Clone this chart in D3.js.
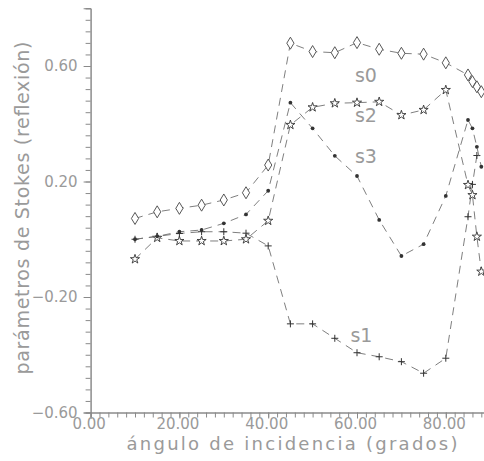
<!DOCTYPE html>
<html>
<head>
<meta charset="utf-8">
<script src="https://cdn.jsdelivr.net/npm/d3@7"></script>
<style>
  body { margin: 0; background: #fff; }
  svg { display: block; }
  text { font-family: "DejaVu Sans", sans-serif; fill: #9a9a9a; }
</style>
</head>
<body>
<svg id="chart" width="484" height="461"></svg>
<script>
// angulos de incidencia (grados)
var angles = [10, 15, 20, 25, 30, 35, 40, 45, 50, 55, 60, 65, 70, 75, 80, 85, 86, 87, 88];

// parametros de Stokes
var s0 = [0.072, 0.095, 0.107, 0.118, 0.136, 0.161, 0.257, 0.679, 0.650, 0.646, 0.681, 0.658, 0.644, 0.641, 0.611, 0.569, 0.546, 0.528, 0.511];
var s1 = [0.000, 0.010, 0.020, 0.026, 0.026, 0.021, -0.023, -0.293, -0.293, -0.343, -0.393, -0.407, -0.424, -0.464, -0.412, 0.078, 0.190, 0.290, null];
var s2 = [-0.069, 0.005, -0.006, -0.006, -0.006, 0.000, 0.064, 0.396, 0.457, 0.471, 0.473, 0.476, 0.430, 0.448, 0.517, 0.188, 0.153, 0.009, -0.112];
var s3 = [0.000, 0.010, 0.026, 0.032, 0.055, 0.086, 0.168, 0.473, 0.384, 0.289, 0.219, 0.067, -0.058, -0.017, 0.150, 0.413, 0.384, 0.320, 0.251];

var seriesNames = ['s0', 's1', 's2', 's3'];
var seriesValues = [s0, s1, s2, s3];
var markers = ['diamond', 'plus', 'star', 'dot'];

// etiquetas de curva: [angulo, valor de linea base]
var labelPos = [[62, 0.545], [61, -0.356], [62, 0.406], [62, 0.264]];

var yMajor = [-0.6, -0.2, 0.2, 0.6];
var xMajor = [0, 20, 40, 60, 80];

var svg = d3.select('#chart');

var x = d3.scaleLinear().domain([0, 90]).range([90.6, 490.2]);
var y = d3.scaleLinear().domain([-0.6, 0.8]).range([412.5, 8.25]);

var axisColor = '#8a8a8a';

// eje y: marcas menores y mayores
var gy = svg.append('g').attr('transform', 'translate(' + x(0) + ',0)');
gy.call(d3.axisLeft(y).tickValues(d3.range(-0.6, 0.8001, 0.04)).tickSize(5).tickFormat(''));
gy.append('g').call(d3.axisLeft(y).tickValues(yMajor).tickSize(7).tickPadding(6).tickFormat(d3.format('.2f')));
gy.selectAll('path.domain').attr('stroke', axisColor);
gy.selectAll('.tick line').attr('stroke', axisColor);
gy.selectAll('.tick text').style('font-size', '15px').attr('fill', '#9a9a9a');

// eje x
var gx = svg.append('g').attr('transform', 'translate(0,' + y(-0.6) + ')');
gx.call(d3.axisBottom(x).tickValues(d3.range(0, 91, 2)).tickSize(5).tickFormat(''));
gx.append('g').call(d3.axisBottom(x).tickValues(xMajor).tickSize(6).tickPadding(0).tickFormat(d3.format('.2f')));
gx.selectAll('path.domain').attr('stroke', axisColor);
gx.selectAll('.tick line').attr('stroke', axisColor);
gx.selectAll('.tick text').style('font-size', '15px').attr('fill', '#9a9a9a').attr('dx', -2);

// titulos
svg.append('text')
    .attr('x', 292).attr('y', 450)
    .attr('text-anchor', 'middle')
    .attr('textLength', 331).attr('lengthAdjust', 'spacing')
    .style('font-size', '18px')
    .text('ángulo de incidencia (grados)');

svg.append('text')
    .attr('transform', 'translate(29,208) rotate(-90)')
    .attr('text-anchor', 'middle')
    .attr('textLength', 333).attr('lengthAdjust', 'spacing')
    .style('font-size', '19px')
    .text('parámetros de Stokes (reflexión)');

// curvas
var line = d3.line()
    .defined(function(d) { return d.v !== null })
    .x(function(d) { return x(d.a) })
    .y(function(d) { return y(d.v) });

var starPath = d3.symbol().type(d3.symbolStar).size(26)();

seriesValues.forEach(function(vals, i) {
    var pts = angles.map(function(a, j) { return { a: a, v: vals[j] } });
    var g = svg.append('g').attr('class', seriesNames[i]);

    g.append('path')
        .datum(pts)
        .attr('d', line)
        .attr('fill', 'none')
        .attr('stroke', '#707070')
        .attr('stroke-width', 0.9)
        .attr('stroke-dasharray', '8,6');

    var m = g.selectAll('.m').data(pts.filter(function(d) { return d.v !== null }))
        .enter().append('g')
        .attr('class', 'm')
        .attr('transform', function(d) { return 'translate(' + x(d.a) + ',' + y(d.v) + ')' });

    if (markers[i] == 'diamond') {
        m.append('path').attr('d', 'M0,-6L3.6,0L0,6L-3.6,0Z')
            .attr('fill', '#fff').attr('stroke', '#444').attr('stroke-width', 0.9);
    } else if (markers[i] == 'plus') {
        m.append('path').attr('d', 'M-3.5,0H3.5M0,-3.5V3.5')
            .attr('stroke', '#333').attr('stroke-width', 1);
    } else if (markers[i] == 'star') {
        m.append('path').attr('d', starPath)
            .attr('fill', '#fff').attr('stroke', '#333').attr('stroke-width', 0.9);
    } else {
        m.append('circle').attr('r', 1.9).attr('fill', '#333');
    }
});

// etiquetas s0..s3
svg.selectAll('.lbl').data(seriesNames)
    .enter().append('text')
    .attr('class', 'lbl')
    .attr('x', function(d, i) { return x(labelPos[i][0]) })
    .attr('y', function(d, i) { return y(labelPos[i][1]) })
    .attr('text-anchor', 'middle')
    .style('font-size', '19px')
    .text(function(d) { return d });
</script>
</body>
</html>
